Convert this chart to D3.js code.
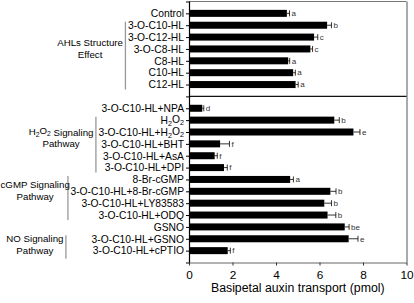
<!DOCTYPE html>
<html>
<head>
<meta charset="utf-8">
<script src="https://cdn.jsdelivr.net/npm/d3@7"></script>
<style>
  body { margin: 0; background: #fff; }
  svg { display: block; font-family: "Liberation Sans", Arial, sans-serif; }
</style>
</head>
<body>
<div id="chart"></div>
<script>
// treatments, top to bottom
const treatments = [
    "Control", "3-O-C10-HL", "3-O-C12-HL", "3-O-C8-HL", "C8-HL", "C10-HL", "C12-HL",
    "3-O-C10-HL+NPA", "H2O2", "3-O-C10-HL+H2O2", "3-O-C10-HL+BHT", "3-O-C10-HL+AsA",
    "3-O-C10-HL+DPI", "8-Br-cGMP", "3-O-C10-HL+8-Br-cGMP", "3-O-C10-HL+LY83583",
    "3-O-C10-HL+ODQ", "GSNO", "3-O-C10-HL+GSNO", "3-O-C10-HL+cPTIO"
];
const transport = [4.5, 6.35, 5.75, 5.58, 4.56, 4.79, 4.9,
    0.61, 6.68, 7.56, 1.43, 1.18, 1.61, 4.65, 6.5, 6.22, 6.37, 7.16, 7.34, 1.78];
const errors = [0.12, 0.2, 0.17, 0.1, 0.07, 0.1, 0.12,
    0.07, 0.23, 0.3, 0.43, 0.12, 0.15, 0.15, 0.26, 0.33, 0.38, 0.2, 0.43, 0.12];
const letters = ["a", "b", "c", "c", "a", "a", "a",
    "d", "b", "e", "f", "f", "f", "a", "b", "b", "b", "be", "e", "f"];

// group brackets on the left
const groupNames = [["AHLs Structure", "Effect"], ["H2O2 Signaling", "Pathway"],
    ["cGMP Signaling", "Pathway"], ["NO Signaling", "Pathway"]];
const groupFirst = ["3-O-C10-HL", "H2O2", "8-Br-cGMP", "3-O-C10-HL+GSNO"];
const groupLast = ["C12-HL", "3-O-C10-HL+DPI", "3-O-C10-HL+ODQ", "3-O-C10-HL+cPTIO"];

const xTicks = [0, 2, 4, 6, 8, 10];
const xTitle = "Basipetal auxin transport (pmol)";

const width = 414, height = 303;
const margin = {top: 1.5, right: 7.5, bottom: 40.5, left: 189};
const GAP = "__gap__";

const svg = d3.select("#chart").append("svg")
    .attr("width", width)
    .attr("height", height);

const data = treatments.map((t, i) => ({
    name: t, value: transport[i], err: errors[i], letter: letters[i]
}));

const domain = treatments.slice(0, 7).concat([GAP]).concat(treatments.slice(7));

const x = d3.scaleLinear()
    .domain([0, 10])
    .range([margin.left, width - margin.right]);

const y = d3.scalePoint()
    .domain(domain)
    .range([margin.top, height - margin.bottom])
    .padding(1);

// writes H2O2 with subscripts
function richText(sel, str) {
    const parts = str.split(/(H2O2)/);
    parts.forEach(p => {
        if (p === "H2O2") {
            sel.append("tspan").text("H");
            sel.append("tspan").attr("font-size", "0.7em").attr("dy", "0.25em").text("2");
            sel.append("tspan").attr("dy", "-0.25em").text("O");
            sel.append("tspan").attr("font-size", "0.7em").attr("dy", "0.25em").text("2");
            sel.append("tspan").attr("dy", "-0.25em").text("");
        } else if (p.length) {
            sel.append("tspan").text(p);
        }
    });
}

// frame top / right
svg.append("line")
    .attr("x1", margin.left).attr("x2", width - margin.right)
    .attr("y1", margin.top).attr("y2", margin.top)
    .attr("stroke", "#777").attr("stroke-width", 1);
svg.append("line")
    .attr("x1", width - margin.right + 0.5).attr("x2", width - margin.right + 0.5)
    .attr("y1", margin.top).attr("y2", height - margin.bottom)
    .attr("stroke", "#aaa").attr("stroke-width", 2);

// divider between sections
svg.append("line")
    .attr("x1", margin.left).attr("x2", width - margin.right)
    .attr("y1", y(GAP)).attr("y2", y(GAP))
    .attr("stroke", "#111").attr("stroke-width", 1.4);

// bars
const barH = 7;
svg.selectAll(".bar")
    .data(data)
    .enter().append("rect")
    .attr("class", "bar")
    .attr("x", x(0))
    .attr("y", d => y(d.name) - barH / 2)
    .attr("width", d => x(d.value) - x(0))
    .attr("height", barH)
    .attr("fill", "#000");

// error bars
const eb = svg.selectAll(".err")
    .data(data)
    .enter().append("g")
    .attr("class", "err");
eb.append("line")
    .attr("x1", d => x(d.value)).attr("x2", d => x(d.value + d.err))
    .attr("y1", d => y(d.name)).attr("y2", d => y(d.name))
    .attr("stroke", "#000").attr("stroke-width", 0.8);
eb.append("line")
    .attr("x1", d => x(d.value + d.err)).attr("x2", d => x(d.value + d.err))
    .attr("y1", d => y(d.name) - 3).attr("y2", d => y(d.name) + 3)
    .attr("stroke", "#000").attr("stroke-width", 0.8);
eb.append("text")
    .attr("x", d => x(d.value + d.err) + 2)
    .attr("y", d => y(d.name))
    .attr("dy", "0.35em")
    .attr("font-size", 8)
    .attr("fill", "#333")
    .text(d => d.letter);

// left axis
const yAxis = svg.append("g")
    .attr("transform", `translate(${margin.left},0)`)
    .call(d3.axisLeft(y).tickSize(3).tickPadding(2).tickFormat(() => ""));
yAxis.select(".domain").attr("stroke", "#000").attr("stroke-width", 1.2);
yAxis.selectAll(".tick line").attr("stroke", "#000");
yAxis.selectAll(".tick text").each(function (d) {
    const t = d3.select(this);
    t.attr("font-size", 10.3).attr("fill", "#000").attr("font-family", null);
    if (d !== GAP) richText(t, d);
});

// bottom axis
const xAxis = svg.append("g")
    .attr("transform", `translate(0,${height - margin.bottom})`)
    .call(d3.axisBottom(x).tickValues(xTicks).tickSize(3).tickPadding(5).tickSizeOuter(0));
xAxis.select(".domain").attr("stroke", "#666").attr("stroke-width", 1.2);
xAxis.selectAll(".tick line").attr("stroke", "#333");
xAxis.selectAll(".tick text").attr("font-size", 11.8).attr("fill", "#000").attr("font-family", null);

svg.append("text")
    .attr("x", (x(0) + x(10)) / 2)
    .attr("y", height - 11.5)
    .attr("text-anchor", "middle")
    .attr("font-size", 12.3)
    .text(xTitle);

// group brackets + labels
const labelLeft = {};
yAxis.selectAll(".tick").each(function (d) {
    const txt = d3.select(this).select("text").node();
    if (d !== GAP) labelLeft[d] = margin.left - 5 - txt.getComputedTextLength();
});

let prevX = null;
groupNames.forEach((lines, gi) => {
    const i0 = treatments.indexOf(groupFirst[gi]);
    const i1 = treatments.indexOf(groupLast[gi]);
    let bx = d3.min(treatments.slice(i0, i1 + 1), t => labelLeft[t]) - 2.5;
    if (prevX !== null && gi === groupNames.length - 1) bx = Math.min(bx, prevX - 2);
    prevX = bx;
    const y0 = y(groupFirst[gi]) - 3.5, y1 = y(groupLast[gi]) + (gi === 3 ? 8 : 5);
    svg.append("line")
        .attr("x1", bx).attr("x2", bx)
        .attr("y1", y0).attr("y2", y1)
        .attr("stroke", "#999").attr("stroke-width", 1.3);

    const g = svg.append("g");
    const mid = (y0 + y1) / 2 - (gi === 3 ? 2 : 7);
    const texts = lines.map((ln, li) => {
        const t = g.append("text")
            .attr("y", mid + (li - (lines.length - 1) / 2) * 11.8)
            .attr("dy", "0.35em")
            .attr("font-size", 9.7)
            .attr("text-anchor", "middle");
        richText(t, ln);
        return t;
    });
    const w = d3.max(texts, t => t.node().getComputedTextLength());
    texts.forEach(t => t.attr("x", Math.max(bx - 2.5 - w / 2, w / 2 + 0.5)));
});
</script>
</body>
</html>
